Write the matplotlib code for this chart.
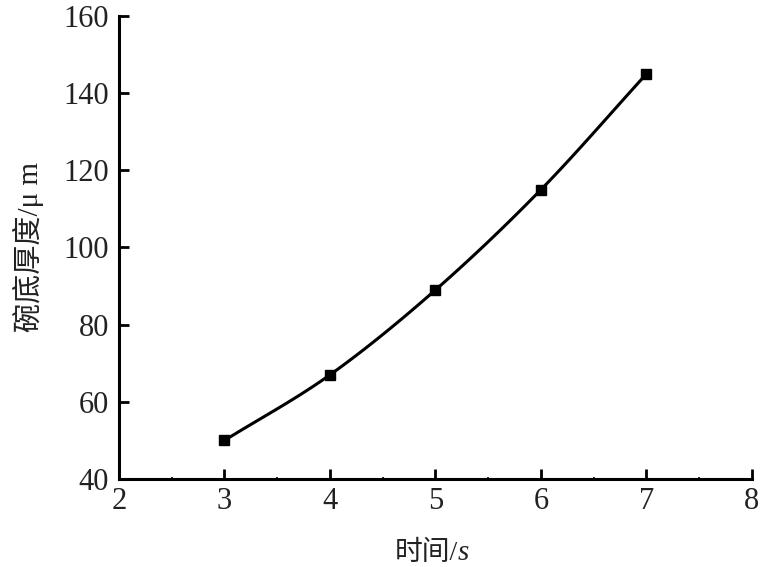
import numpy as np
import matplotlib
matplotlib.use("Agg")
import matplotlib.pyplot as plt
from matplotlib.ticker import MultipleLocator

time_s = [3, 4, 5, 6, 7]
thickness_um = [50, 67, 89, 115, 145]
x_ticks = [2, 3, 4, 5, 6, 7, 8]
y_ticks = [40, 60, 80, 100, 120, 140, 160]

plt.rcParams['font.family'] = ['Liberation Serif', 'Noto Sans CJK SC']

fig = plt.figure(figsize=(7.7, 5.67), dpi=100)
ax = fig.add_axes([0.1545, 0.1552, 0.8221, 0.8166])

# smooth rendering through the data points (Catmull-Rom)
xs = np.array(time_s, float)
ys = np.array(thickness_um, float)
px = np.concatenate([[2*xs[0]-xs[1]], xs, [2*xs[-1]-xs[-2]]])
py = np.concatenate([[2*ys[0]-ys[1]], ys, [2*ys[-1]-ys[-2]]])
cx, cy = [], []
t = np.linspace(0, 1, 30)
for i in range(1, len(px)-2):
    p0, p1, p2, p3 = [np.array([px[j], py[j]]) for j in (i-1, i, i+1, i+2)]
    for tt in t:
        pt = 0.5*((2*p1) + (-p0+p2)*tt + (2*p0-5*p1+4*p2-p3)*tt**2 + (-p0+3*p1-3*p2+p3)*tt**3)
        cx.append(pt[0]); cy.append(pt[1])
ax.plot(cx, cy, color='black', lw=2.2)
ax.plot(time_s, thickness_um, 's', color='black', ms=7)

ax.set_xlim(2, 8)
ax.set_ylim(40, 160)
ax.set_xticks(x_ticks)
ax.set_yticks(y_ticks)
ax.xaxis.set_minor_locator(MultipleLocator(0.5))
ax.yaxis.set_minor_locator(MultipleLocator(10))
ax.tick_params(which='major', direction='in', length=7, width=2, labelsize=22, labelcolor='#222222')
ax.tick_params(axis='x', which='major', pad=6)
ax.tick_params(axis='y', which='major', pad=7)
ax.tick_params(which='minor', direction='in', length=1.5, width=1.2)
ax.tick_params(top=False, right=False)
for s in ['top', 'right']:
    ax.spines[s].set_visible(False)
for s in ['left', 'bottom']:
    ax.spines[s].set_linewidth(2.2)

ax.text(0.535, -0.175, '时间/', transform=ax.transAxes, ha='right', va='baseline',
        fontsize=20, color='#222222')
ax.text(0.535, -0.175, 's', transform=ax.transAxes, ha='left', va='baseline',
        fontsize=21, style='italic', color='#222222')
ax.set_ylabel('碗底厚度/μ m', fontsize=21, labelpad=14, color='#222222')

fig.savefig('out.png', dpi=100)
